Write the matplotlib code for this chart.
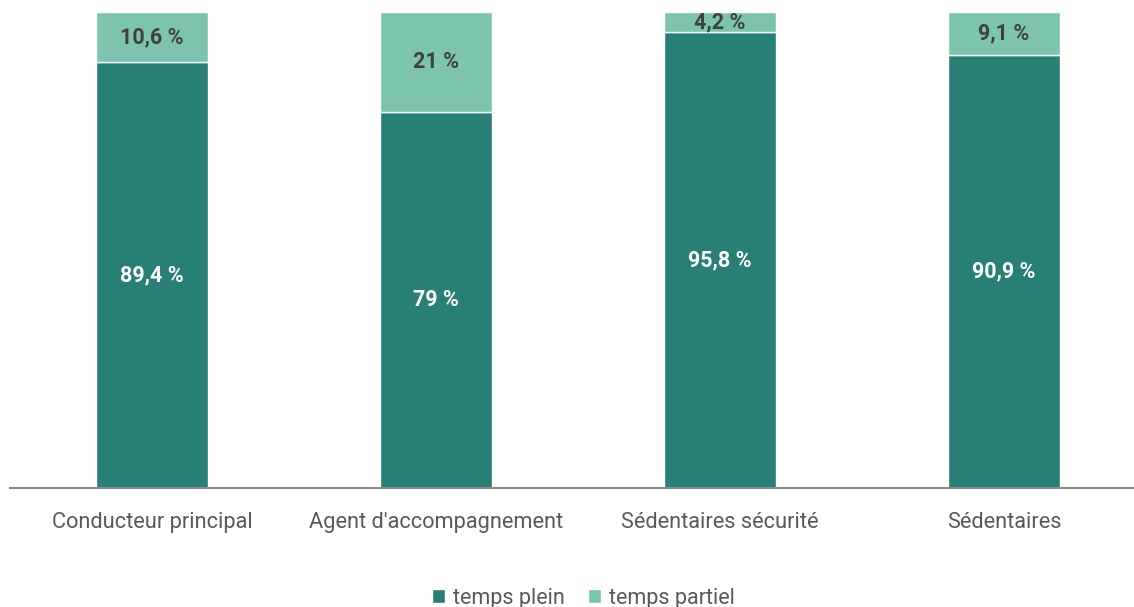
import matplotlib
matplotlib.use('Agg')
import matplotlib.pyplot as plt
import numpy as np

plt.rcParams['font.family'] = ['Roboto', 'DejaVu Sans']

categories = ['Conducteur principal', "Agent d'accompagnement", 'Sédentaires sécurité', 'Sédentaires']
plein = [89.4, 79.0, 95.8, 90.9]
partiel = [10.6, 21.0, 4.2, 9.1]
plein_labels = ['89,4 %', '79 %', '95,8 %', '90,9 %']
partiel_labels = ['10,6 %', '21 %', '4,2 %', '9,1 %']

c_plein = '#287F75'
c_partiel = '#7DC4AF'

fig = plt.figure(figsize=(11.34, 6.07), dpi=100)
ax = fig.add_axes([10 / 1134, 119 / 607, 1.0 - 10 / 1134, 476 / 607])

x = np.arange(len(categories))
w = 0.394
b1 = ax.bar(x, plein, w, color=c_plein, edgecolor='white', linewidth=1, label='temps plein')
b2 = ax.bar(x, partiel, w, bottom=plein, color=c_partiel, edgecolor='white', linewidth=1, label='temps partiel')

# étiquettes de valeurs au centre de chaque segment
for i in range(len(categories)):
    ax.text(x[i], plein[i] / 2, plein_labels[i], ha='center', va='center',
            color='white', fontsize=15.5, fontweight='bold')
    ax.text(x[i], plein[i] + partiel[i] / 2, partiel_labels[i], ha='center', va='center',
            color='#404040', fontsize=15.5, fontweight='bold')

ax.set_xlim(-0.5, 3.5 - 12 / 284)
ax.set_ylim(0, 100)
ax.set_xticks(x)
ax.set_xticklabels(categories, fontsize=15.7, color='#595959')
ax.tick_params(axis='x', length=0, pad=17)
ax.set_yticks([])
for s in ['top', 'right', 'left']:
    ax.spines[s].set_visible(False)
ax.spines['bottom'].set_color('#8C8C8C')
ax.spines['bottom'].set_linewidth(1.5)

fig.legend(handles=[b1, b2], loc='lower center', bbox_to_anchor=(0.5146, -0.035), ncol=2,
           frameon=False, fontsize=15.5, labelcolor='#595959', handlelength=0.6,
           handleheight=0.6, handletextpad=0.35, columnspacing=1.1)

fig.savefig('out.png', dpi=100)
